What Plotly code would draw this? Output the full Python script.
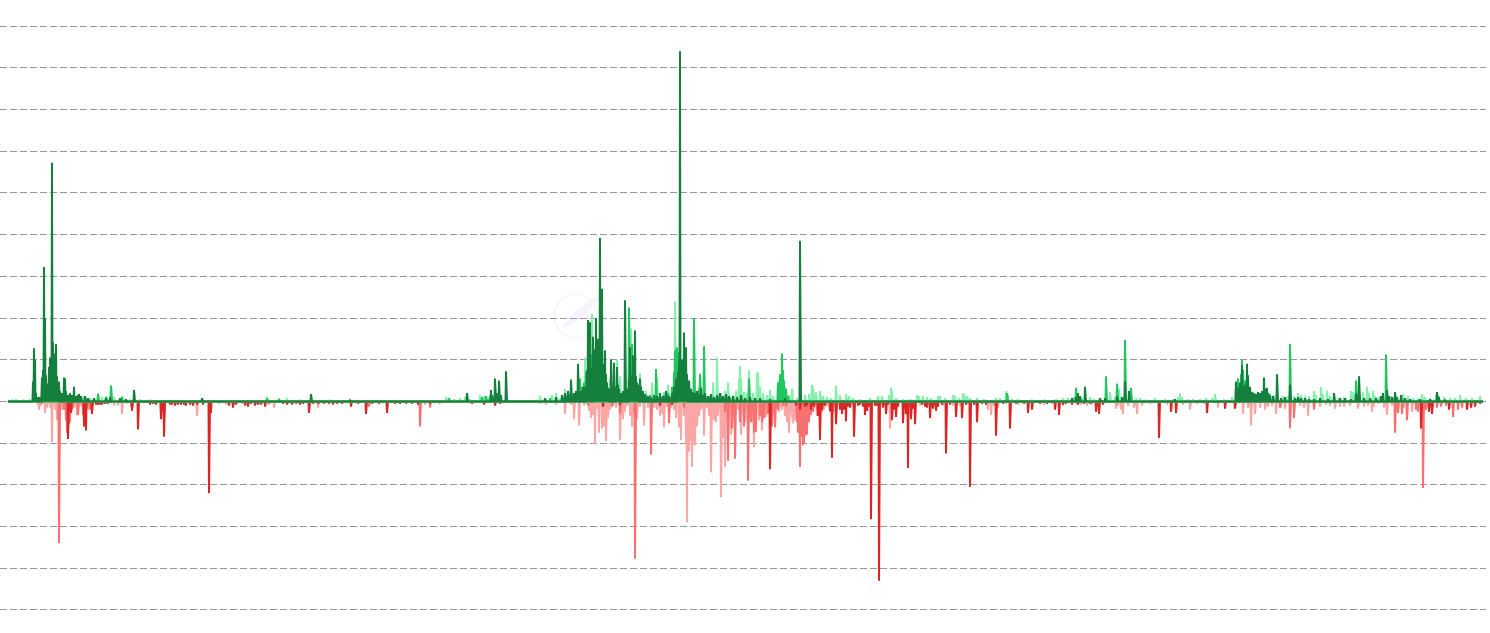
import plotly.graph_objects as go

# Each series is a list of (day, value); days not listed are zero.
first_day, last_day = 8, 1483

dark_green = [
 (33,19),(34,51),(35,40),(36,8),(38,4),(40,4),(42,23),(43,30),(44,129),(45,80),(46,25),(47,14),(48,17),(49,33),(50,42),(51,28),(52,229),
 (53,57),(54,45),(55,46),(56,55),(57,24),(58,18),(59,19),(60,10),(62,8),(64,23),(65,22),(66,10),(68,6),(70,8),(72,6),(74,14),(76,5),(78,6),(79,7),(81,5),(85,5),(88,3),(94,3),
 (106,3),(110,4),(120,3),(126,2),(134,11),(202,3),(311,7),(350,1),(467,8),(491,11),(492,6),(495,22),(497,8),(499,20),(501,6),(506,29),
 (545,3),(556,4),(562,6),(565,8),(568,10),(571,21),(574,8),(576,10),(578,36),(581,10),(583,14),(585,14),(587,30),(588,78),(589,30),(590,76),(591,32),(593,62),(594,30),(595,50),(596,80),(597,36),
 (598,60),(599,34),(600,157),(601,34),(602,108),(603,36),(604,30),(605,49),(606,26),(607,18),(608,13),(610,12),(611,40),(613,12),(614,37),(616,14),(617,33),(618,16),(619,12),
 (621,8),(623,10),(625,97),(627,12),(629,22),(630,52),(631,20),(632,24),(633,44),(634,26),(635,68),(636,24),(637,18),(638,16),(640,22),(641,14),(643,10),(645,7),(648,5),(651,4),(654,6),(657,5),(660,8),(663,5),(666,10),(669,5),(672,8),
 (674,14),(676,22),(678,28),(679,38),(680,336),(681,40),(682,30),(683,40),(684,66),(685,38),(686,52),(687,26),(689,20),(691,12),(693,9),(695,8),(697,10),(699,7),(701,13),(703,6),(705,8),(708,5),(711,7),(714,4),(717,6),(720,8),(723,5),(726,7),(729,5),(733,5),(737,4),(741,6),(745,3),(750,4),(755,3),(760,3),(770,2),(785,3),(800,154),
 (1072,3),(1076,4),(1078,8),(1080,5),(1085,14),(1100,3),(1105,3),(1117,5),(1122,4),(1125,19),(1129,10),(1175,2),
 (1236,19),(1238,13),(1240,18),(1242,35),(1243,15),(1245,16),(1247,36),(1248,25),(1250,14),(1252,9),(1254,8),(1256,7),(1258,9),(1260,8),(1262,10),(1264,23),(1265,12),(1267,13),(1268,8),(1270,6),(1273,5),(1277,26),(1281,3),(1285,4),(1290,16),
 (1295,3),(1298,4),(1301,3),(1305,3),(1309,2),(1314,2),(1320,3),(1328,2),(1334,8),(1340,3),(1345,3),(1351,2),(1356,8),(1359,24),(1364,3),(1370,3),(1376,3),(1381,5),(1383,8),(1387,11),(1389,5),(1392,4),(1395,9),(1397,4),(1401,6),(1405,3),(1410,2),(1420,2),(1430,2),(1437,9),(1439,4),(1445,1),
]

mid_green = [
 (40,4),(42,23),(43,20),(44,10),(46,8),(48,12),(50,14),(51,18),(53,18),(55,16),(57,8),(60,5),(98,7),(106,4),(111,15),(122,4),(267,3),(279,2),
 (449,3),(482,4),(486,5),(490,5),(550,3),(562,5),(566,5),(570,7),(574,8),(578,12),(580,22),(582,14),(584,18),(586,28),(588,20),(590,30),(592,45),(594,35),(596,25),(598,18),(600,26),(602,16),(604,14),(606,12),(610,8),(614,10),(618,8),(622,7),(626,8),(629,90),(632,55),(634,24),(636,15),(638,10),(642,7),(646,6),(650,6),(656,31),
 (660,5),(664,6),(668,8),(672,14),(674,28),(675,48),(676,50),(677,52),(678,47),(679,38),(682,20),(686,12),(690,8),(694,80),(699,12),(700,26),(704,53),(710,5),(730,4),(749,22),(778,18),(780,26),(781,24),(782,46),(783,30),(784,20),(786,12),(788,5),
 (1007,8),(1076,13),(1106,24),(1117,17),(1125,59),(1131,13),(1236,14),(1238,22),(1241,26),(1242,40),(1243,30),(1245,20),(1248,12),(1251,8),(1254,6),(1290,55),(1356,20),(1359,10),(1386,45),(1438,5),
]

light_green = [
 (12,1),(16,2),(24,1),(30,2),(78,4),(84,5),(90,3),(98,8),(102,4),(106,5),(111,16),(114,4),(122,5),(130,2),(140,2),(150,1),(267,4),(279,3),(287,3),(300,1),(311,3),(330,1),(446,4),(449,3),(454,2),(460,3),(465,4),(470,2),(480,6),(484,5),(488,3),(540,5),(545,3),
 (552,6),(556,8),(560,3),(565,12),(585,42),(592,84),(597,48),(605,20),(610,22),(617,40),(620,24),(631,70),(640,27),(646,10),(652,18),(657,23),(664,9),(668,16),(675,96),(700,27),(713,18),(717,42),(721,8),(725,10),(728,18),(733,6),(736,10),(739,22),(740,34),(741,22),(744,9),(747,8),
 (749,30),(753,8),(757,27),(758,28),(760,14),(763,8),(767,6),(770,11),(773,5),(778,18),(779,20),(785,14),(789,6),(792,12),(797,3),(805,6),(809,7),(812,16),(813,14),(816,9),(820,10),(823,5),(827,4),(831,3),(836,15),(840,6),(846,7),(849,5),(853,3),(860,2),(870,3),(878,5),(882,5),
 (889,6),(891,13),(892,10),(896,3),(903,2),(910,2),(917,6),(919,5),(923,5),(927,4),(931,3),(938,5),(940,5),(945,3),(953,6),(955,5),(959,3),(963,8),(964,7),(967,5),(970,3),(977,3),(984,2),(996,3),(1000,3),(1006,10),(1008,6),(1012,2),(1018,2),(1032,1),(1045,1),(1056,2),(1063,3),(1068,3),
 (1074,4),(1082,3),(1090,4),(1094,2),(1100,2),(1110,9),(1115,4),(1119,12),(1136,3),(1140,3),(1146,1),(1155,3),(1165,2),(1173,2),(1178,4),(1180,8),(1182,4),(1188,2),(1193,2),(1200,2),(1206,3),(1212,3),(1215,7),(1224,1),(1232,4),
 (1262,8),(1270,8),(1275,6),(1283,5),(1288,5),(1294,5),(1298,8),(1301,6),(1305,5),(1309,5),(1314,10),(1316,6),(1321,14),(1323,7),(1327,10),(1330,5),(1338,3),(1344,4),(1351,10),(1353,9),(1356,8),(1363,9),(1367,14),(1369,8),(1373,10),(1375,5),(1379,4),(1391,5),(1397,4),(1403,7),(1408,5),(1413,3),(1418,3),(1422,7),(1425,4),(1430,3),(1436,6),(1444,4),(1450,3),(1455,3),(1460,6),(1466,3),(1472,3),(1480,5),
]

dark_red = [
 (68,36),(71,11),(84,24),(86,28),(92,12),(96,3),(98,3),(100,3),(102,3),(105,2),(108,2),(132,9),(138,27),(150,3),(153,2),(156,3),(161,17),(164,34),(170,3),(172,3),(175,4),(178,3),(181,3),(184,3),(186,4),(190,3),(193,4),(197,3),(203,3),(209,88),(211,11),
 (229,4),(233,6),(236,3),(245,4),(248,5),(251,2),(255,4),(258,3),(261,3),(265,5),(270,1),(283,2),(287,3),(292,3),(296,2),(300,3),(303,2),(309,11),(313,2),(318,2),(324,2),(329,2),(333,3),(337,2),(342,2),(351,5),(358,2),(366,12),(372,2),(379,2),(387,11),(395,2),(400,2),(406,2),(412,2),(418,3),(430,2),(440,1),(472,2),(484,3),(495,4),(500,2),
 (603,5),(620,3),(660,4),(672,3),(770,65),(796,4),(800,8),(805,5),(807,4),(811,8),(814,5),(818,14),(820,37),(822,8),(825,4),(830,9),(832,54),(836,22),(840,8),(842,12),(844,8),(846,19),(848,5),(850,6),(854,34),(858,4),(860,3),(863,5),(865,13),(867,9),(869,5),(871,113),(875,4),(877,4),(879,172),(883,6),(886,12),(888,3),(892,18),(894,8),(896,15),(898,5),(903,21),(906,12),(908,64),(911,17),(913,7),(915,22),
 (922,3),(925,5),(927,6),(930,16),(933,7),(936,9),(938,5),(942,3),(946,50),(950,3),(956,15),(962,16),(966,3),(970,82),(974,3),(977,20),(982,2),(986,3),(996,33),(1003,2),(1010,26),(1016,2),(1024,2),(1028,11),(1032,8),(1040,2),(1047,2),(1055,8),(1059,13),(1063,3),(1066,2),(1072,3),(1078,3),(1084,2),(1090,2),(1096,10),(1099,12),(1103,3),
 (1159,35),(1171,10),(1176,11),(1207,11),(1225,7),(1235,7),(1421,26),(1429,10),(1432,12),(1449,8),(1467,8),(1471,6),(1475,5),(1480,2),
]

mid_red = [
 (42,2),(59,136),(64,8),(66,18),(67,30),(68,28),(69,22),(70,20),(72,8),(78,13),(83,13),(85,18),(87,6),(90,8),(132,6),(161,12),(164,12),(319,2),(369,5),(420,24),(430,6),
 (588,4),(612,5),(620,12),(635,151),(651,51),(669,21),(684,6),(725,10),(728,57),(732,26),(735,55),(740,20),(744,24),(748,76),(751,20),(754,30),(756,29),(760,14),(762,20),(764,16),(768,12),(772,24),(775,25),(778,8),(783,4),(786,5),(797,20),(798,30),(800,63),(802,34),(803,42),(804,40),(805,33),(807,32),(809,20),(811,13),(813,10),(817,8),(820,30),(822,10),(830,10),(833,10),
 (1280,6),(1290,26),(1294,16),(1395,30),(1398,11),(1402,12),(1407,18),(1416,8),(1418,10),(1423,83),(1426,8),(1432,8),(1437,6),(1441,5),(1446,4),(1453,15),(1458,8),(1462,6),(1314,8),
]

light_red = [
 (38,3),(39,8),(41,4),(45,11),(47,6),(50,6),(52,39),(55,8),(57,18),(61,5),(62,8),(74,6),(77,13),(81,4),(88,8),(92,4),(104,2),(114,4),(118,4),(122,12),(127,2),(131,5),(155,2),(197,14),(219,2),(226,3),(242,2),(268,3),(274,6),(310,3),(318,6),(425,3),
 (540,2),(546,3),(556,3),(565,12),(571,3),(574,17),(579,23),(584,4),(589,9),(591,16),(593,13),(595,41),(597,7),(599,30),(602,26),(604,24),(606,38),(608,16),(610,8),(613,4),(616,6),(620,37),(623,17),(625,10),(627,4),(630,14),(632,24),(634,12),(637,17),(640,5),(644,23),(648,6),(654,6),(657,8),(660,14),(662,12),(664,25),(667,5),(671,6),(674,8),(676,16),(679,25),(681,37),(684,14),(686,40),(687,116),(689,48),(690,38),(692,63),(693,28),(694,42),(695,42),(697,24),(699,14),(701,8),
 (704,33),(707,6),(709,14),(711,68),(714,18),(716,20),(718,14),(721,92),(723,35),(725,63),(727,18),(731,32),(733,16),(738,8),(741,32),(745,20),(749,16),(752,20),(754,44),(759,18),(762,28),(766,15),(770,14),(773,10),(775,20),(779,10),(782,8),(785,14),(787,20),(789,30),(792,15),(793,21),(795,18),(798,12),(801,18),(806,8),(808,10),(810,7),(814,6),(817,14),(819,7),
 (824,8),(827,4),(836,12),(840,3),(852,4),(859,3),(866,3),(881,3),(890,26),(893,5),(914,3),(920,4),(943,4),(953,4),(960,4),(968,2),(986,3),(988,8),(991,13),(994,4),(998,6),(1006,2),(1018,3),(1044,3),(1052,2),(1063,4),
 (1077,3),(1081,3),(1087,4),(1092,3),(1100,3),(1116,7),(1118,4),(1121,8),(1123,12),(1128,4),(1134,6),(1137,12),(1142,4),(1150,2),(1167,3),(1183,3),(1190,8),(1197,2),(1204,2),(1218,6),
 (1235,4),(1243,12),(1248,6),(1251,23),(1255,12),(1260,6),(1265,8),(1268,5),(1272,4),(1276,12),(1281,6),(1285,7),(1300,4),(1304,6),(1308,14),(1314,5),(1320,5),(1326,3),(1330,4),(1335,7),(1340,5),(1344,5),(1350,4),(1358,7),(1364,5),(1368,4),(1372,10),(1374,5),(1378,2),(1384,6),(1387,13),(1392,4),(1404,6),(1412,10),
]

grid_step = 40
y_min, y_max = -203, 363

days = [first_day + i * 0.5 for i in range((last_day - first_day) * 2 + 1)]

def full(series):
    lookup = dict(series)
    return [lookup.get(d, 0) for d in days]

def signed(series):
    return [(d, -v) for d, v in series]

styles = [
    (signed(light_red), "#fca5a5"),
    (signed(mid_red), "#f87171"),
    (signed(dark_red), "#dc2626"),
    (light_green, "#86efac"),
    (mid_green, "#22c55e"),
    (dark_green, "#15803d"),
]

fig = go.Figure()
for series, colour in styles:
    fig.add_trace(go.Scatter(
        x=days, y=full(series), mode="lines",
        line=dict(color=colour, width=2),
        fill="tozeroy", fillcolor=colour,
        hoverinfo="skip", showlegend=False,
    ))

fig.update_layout(
    width=1490, height=633,
    margin=dict(l=0, r=4, t=23, b=20),
    paper_bgcolor="white", plot_bgcolor="white",
    xaxis=dict(range=[0, 1486], visible=False),
    yaxis=dict(
        range=[y_min, y_max], dtick=grid_step, tick0=0,
        showgrid=True, gridcolor="#999999", gridwidth=1, griddash="7px,3px",
        zeroline=False, showticklabels=False, ticks="", showline=False,
    ),
    # faint watermark near the centre of the chart
    shapes=[
        dict(type="circle", xref="paper", yref="paper",
             x0=554/1486, x1=597/1486, y0=(613-338)/590, y1=(613-294)/590,
             line=dict(color="#f5f5f9", width=1.5), fillcolor="rgba(255,255,255,0)", layer="below"),
        dict(type="path", xref="paper", yref="paper",
             path=f"M {561/1486} {(613-329)/590} Q {575/1486} {(613-307)/590} {606/1486} {(613-291)/590} Q {585/1486} {(613-320)/590} {561/1486} {(613-329)/590} Z",
             line=dict(width=0), fillcolor="#f5f4ff", layer="below"),
    ],
)

fig.write_html("out.html", config={"displayModeBar": False},
               post_script="document.body.style.margin='0';document.body.style.overflow='hidden';")
